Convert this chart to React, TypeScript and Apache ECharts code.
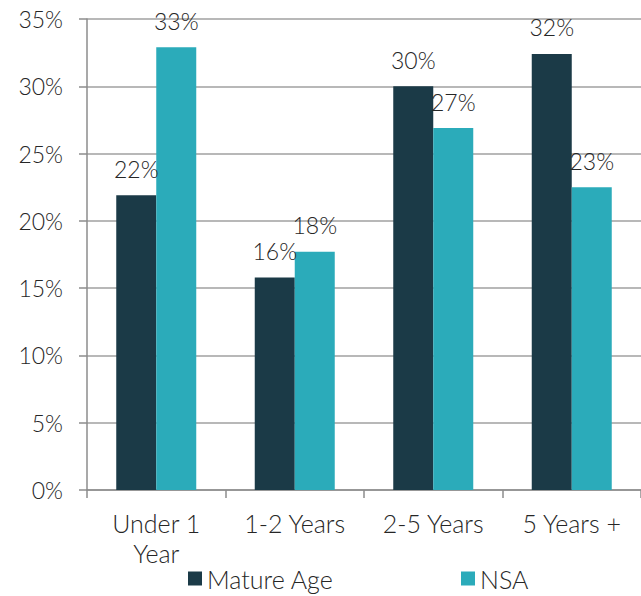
import React, { useEffect, useRef } from "react";
import * as echarts from "echarts";

const categories = ["Under 1\nYear", "1-2 Years", "2-5 Years", "5 Years +"];
const matureAge = [21.9, 15.8, 30.0, 32.4];
const nsa = [32.9, 17.7, 26.9, 22.5];
const seriesNames = ["Mature Age", "NSA"];
const colors = ["#1B3A47", "#2BABBA"];

const FONT = "Lato";
const TEXT = "#262626";

export default function App() {
  const ref = useRef<HTMLDivElement>(null);
  useEffect(() => {
    if (!ref.current) return;
    const chart = echarts.init(ref.current, undefined, { renderer: "svg" });
    const labelStyle = {
      show: true,
      position: "top" as const,
      distance: 15,
      fontFamily: FONT,
      fontWeight: 300 as any,
      fontSize: 23,
      color: TEXT,
      formatter: (p: any) => Math.round(p.value) + "%",
    };
    const legendText = { fontFamily: FONT, fontWeight: 300, fontSize: 25, color: TEXT };
    chart.setOption({
      animation: false,
      textStyle: { fontFamily: FONT, fontWeight: 300 },
      grid: { left: 87, right: -4, top: 19, bottom: 106, containLabel: false },
      legend: [
        {
          data: [seriesNames[0]],
          left: 183,
          top: 561,
          itemWidth: 14,
          itemHeight: 14,
          icon: "rect",
          textStyle: legendText,
        },
        {
          data: [seriesNames[1]],
          left: 456,
          top: 561,
          itemWidth: 14,
          itemHeight: 14,
          icon: "rect",
          textStyle: legendText,
        },
      ],
      xAxis: {
        type: "category",
        data: categories,
        axisLine: { lineStyle: { color: "#8C8C8C", width: 1.5 } },
        axisTick: { show: true, length: 8, lineStyle: { color: "#8C8C8C", width: 1.5 } },
        axisLabel: {
          fontFamily: FONT,
          fontWeight: 300,
          fontSize: 25,
          color: TEXT,
          margin: 18,
          lineHeight: 30,
          interval: 0,
        },
      },
      yAxis: {
        type: "value",
        min: 0,
        max: 35,
        interval: 5,
        axisLine: { show: true, lineStyle: { color: "#8C8C8C", width: 1.5 } },
        axisTick: { show: true, length: 8, lineStyle: { color: "#8C8C8C", width: 1.5 } },
        splitLine: { lineStyle: { color: "#A0A0A0", width: 1.5 } },
        axisLabel: {
          fontFamily: FONT,
          fontWeight: 300,
          fontSize: 23,
          color: TEXT,
          margin: 24,
          formatter: (v: number) => v + "%",
        },
      },
      series: [
        {
          name: seriesNames[0],
          type: "bar",
          data: matureAge,
          barWidth: 40,
          barGap: "0%",
          itemStyle: { color: colors[0] },
          label: labelStyle,
        },
        {
          name: seriesNames[1],
          type: "bar",
          data: nsa,
          barWidth: 40,
          barGap: "0%",
          itemStyle: { color: colors[1] },
          label: labelStyle,
        },
      ],
    });
    return () => chart.dispose();
  }, []);
  return <div ref={ref} style={{ width: 641, height: 596, position: "absolute", left: 0, top: 0 }} />;
}
